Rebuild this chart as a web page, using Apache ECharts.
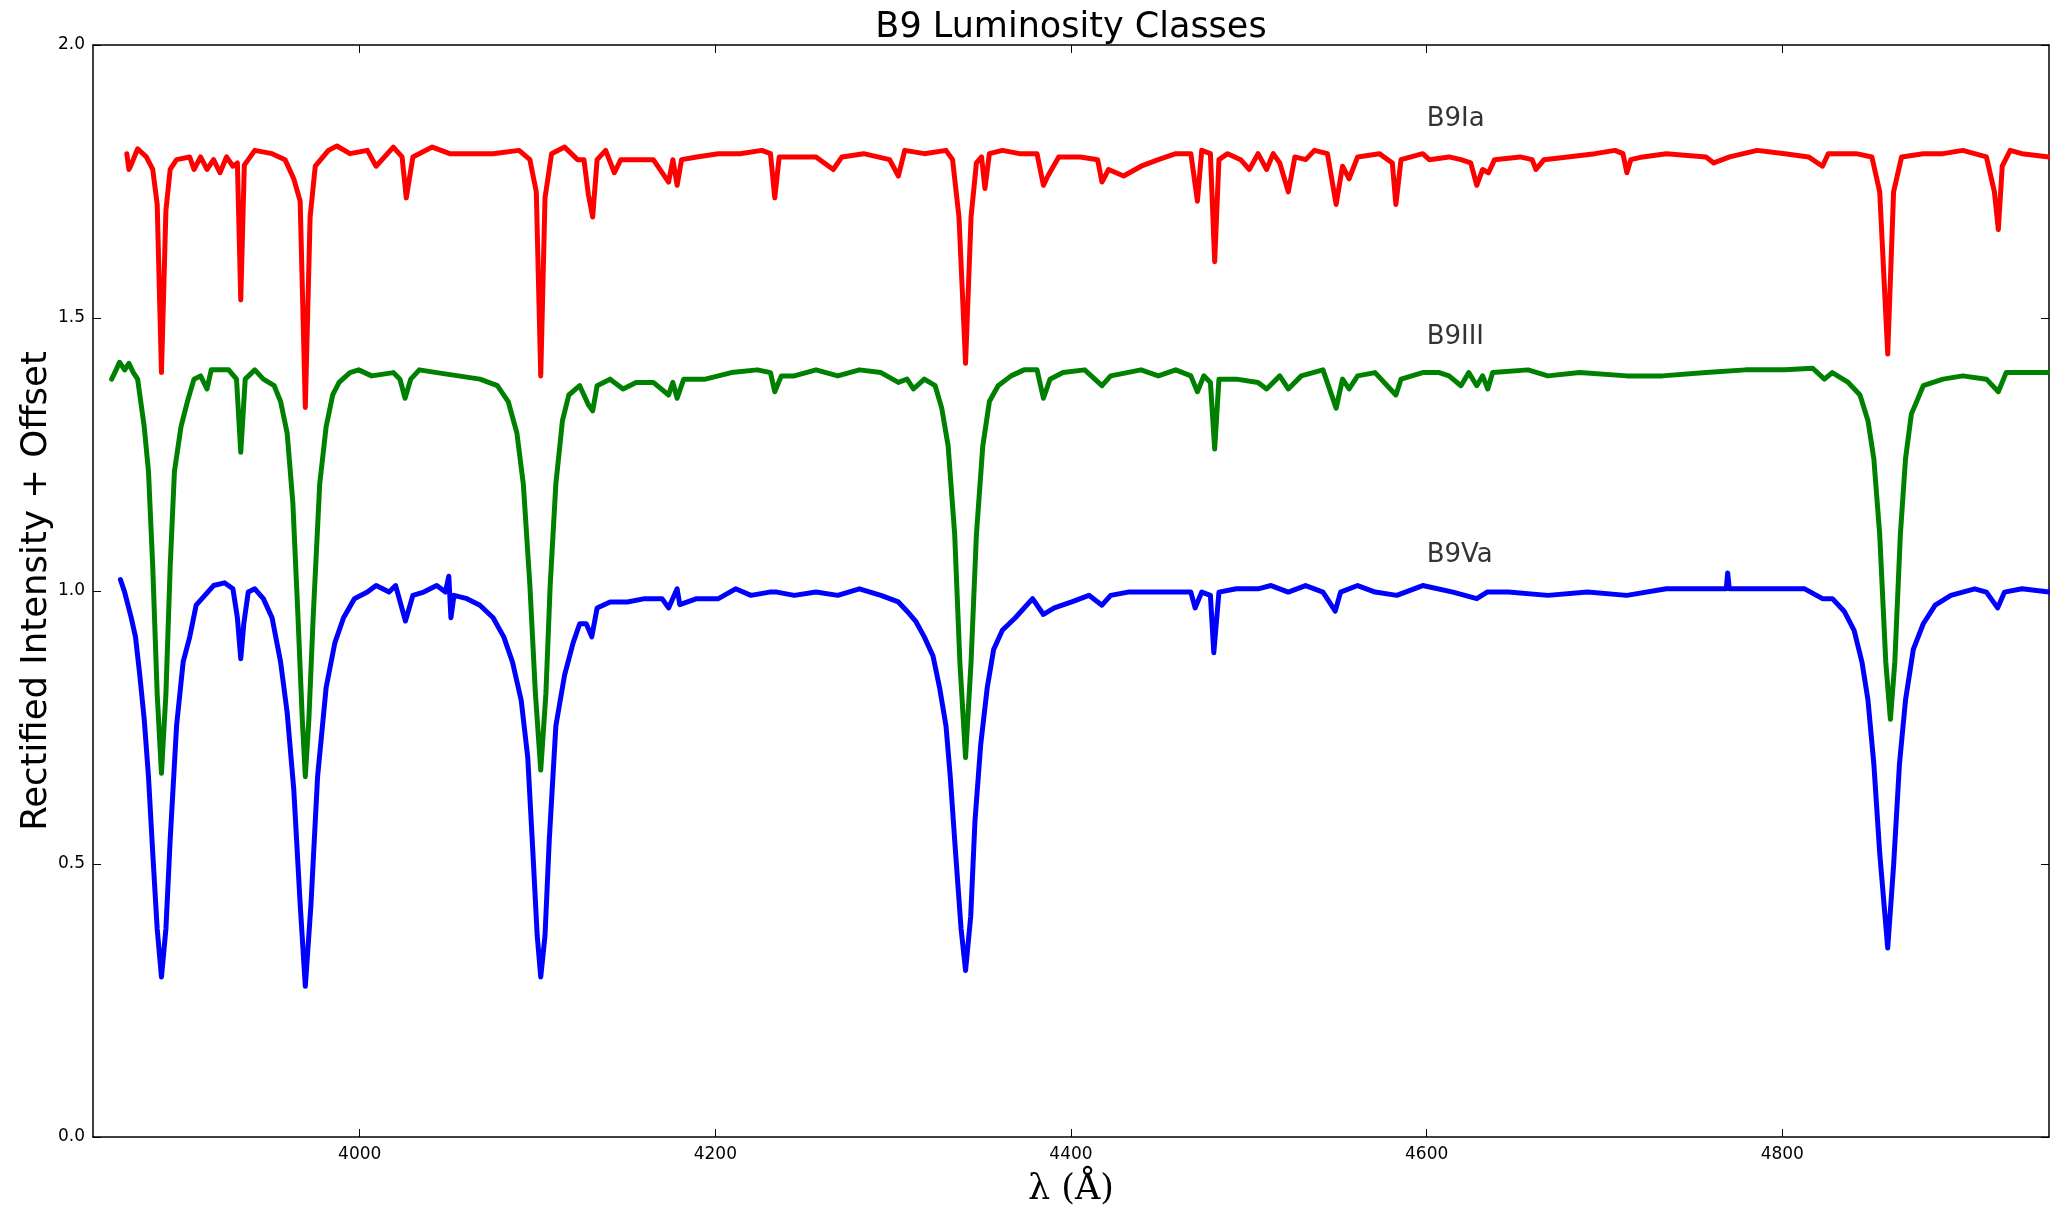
<!DOCTYPE html>
<html>
<head>
<meta charset="utf-8">
<script src="https://cdn.jsdelivr.net/npm/echarts@6/dist/echarts.min.js"></script>
<style>
html,body{margin:0;padding:0;background:#fff;}
#chart{width:2050px;height:1212px;}
</style>
</head>
<body>
<div id="chart"></div>
<script>
// ---- Data ----
const xTicks = [4000, 4200, 4400, 4600, 4800];
const yTicks = [0, 0.5, 1.0, 1.5, 2.0];
const classNames = ['B9Ia', 'B9III', 'B9Va'];
const labelWl = [4600, 4600, 4600];
const labelFlux = [1.85, 1.45, 1.05];

const wlIa = [3869.0,3870.2,3871.4,3875.1,3880.0,3883.6,3886.1,3888.5,3891.0,3893.4,3897.0,3904.4,3906.8,3910.5,3914.1,3917.8,3921.4,3925.1,3928.7,3931.2,3933.1,3935.1,3941.0,3950.7,3958.0,3962.9,3966.5,3969.4,3972.1,3975.0,3982.4,3987.2,3994.5,4004.3,4009.2,4018.9,4023.8,4026.2,4029.9,4040.8,4050.6,4062.8,4075.0,4089.6,4095.7,4099.3,4101.8,4104.2,4107.9,4115.2,4122.5,4126.1,4128.6,4131.0,4133.5,4138.3,4143.2,4146.8,4155.4,4165.1,4173.7,4176.1,4178.5,4181.0,4189.5,4201.7,4213.9,4226.1,4231.0,4233.4,4235.9,4244.4,4256.6,4266.3,4271.2,4283.4,4298.0,4302.9,4306.5,4317.5,4329.7,4333.4,4337.0,4340.7,4343.8,4346.8,4349.7,4351.6,4354.1,4361.4,4371.1,4380.9,4384.5,4387.0,4393.1,4405.3,4415.0,4417.4,4421.1,4429.6,4439.4,4449.1,4458.9,4467.4,4471.1,4473.5,4478.4,4480.8,4483.2,4488.1,4495.4,4500.3,4505.2,4510.0,4513.7,4517.4,4522.2,4525.9,4532.0,4536.9,4544.2,4549.1,4552.7,4556.4,4561.2,4573.4,4580.7,4582.7,4585.6,4597.8,4601.5,4612.6,4619.3,4624.8,4628.2,4631.5,4634.8,4638.2,4652.6,4659.3,4661.5,4666.0,4679.3,4694.8,4705.9,4710.4,4712.6,4714.8,4721.5,4734.8,4757.1,4761.5,4770.4,4785.9,4801.5,4814.8,4822.6,4825.9,4841.5,4850.4,4854.8,4859.3,4862.6,4867.1,4879.3,4890.4,4901.5,4914.8,4919.3,4921.5,4923.7,4928.2,4934.8,4950.0];
const fluxIa = [1.801,1.772,1.780,1.810,1.795,1.772,1.708,1.400,1.697,1.772,1.790,1.795,1.772,1.795,1.772,1.790,1.766,1.795,1.778,1.784,1.533,1.780,1.807,1.801,1.790,1.755,1.714,1.336,1.685,1.778,1.807,1.815,1.801,1.807,1.778,1.813,1.795,1.720,1.795,1.813,1.801,1.801,1.801,1.807,1.790,1.731,1.394,1.720,1.801,1.813,1.790,1.790,1.726,1.685,1.790,1.807,1.766,1.790,1.790,1.790,1.749,1.790,1.743,1.790,1.795,1.801,1.801,1.807,1.801,1.720,1.795,1.795,1.795,1.772,1.795,1.801,1.790,1.760,1.807,1.801,1.807,1.790,1.685,1.417,1.685,1.784,1.795,1.737,1.801,1.807,1.801,1.801,1.743,1.760,1.795,1.795,1.790,1.749,1.772,1.760,1.778,1.790,1.801,1.801,1.714,1.807,1.801,1.603,1.790,1.801,1.790,1.772,1.801,1.772,1.801,1.784,1.731,1.795,1.790,1.807,1.801,1.708,1.778,1.755,1.795,1.801,1.784,1.708,1.790,1.801,1.790,1.795,1.790,1.784,1.743,1.772,1.766,1.790,1.795,1.790,1.772,1.790,1.795,1.801,1.807,1.801,1.766,1.790,1.795,1.801,1.795,1.784,1.795,1.807,1.801,1.795,1.778,1.801,1.801,1.795,1.731,1.434,1.731,1.795,1.801,1.801,1.807,1.795,1.731,1.662,1.778,1.807,1.801,1.795];

const wlIII = [3860.5,3863.0,3864.9,3867.8,3870.2,3872.7,3875.1,3878.8,3881.2,3883.6,3886.1,3888.5,3891.0,3893.4,3895.8,3899.5,3903.1,3906.8,3910.5,3914.1,3916.5,3921.4,3926.3,3930.7,3933.1,3935.6,3941.0,3945.8,3951.9,3955.5,3959.2,3962.4,3965.3,3967.7,3969.4,3971.4,3973.8,3977.5,3981.1,3984.8,3988.4,3994.5,3999.4,4006.7,4018.9,4022.6,4025.5,4028.7,4033.5,4043.3,4055.5,4067.6,4077.4,4083.5,4088.4,4092.0,4095.7,4098.8,4101.8,4104.7,4107.1,4110.3,4114.0,4117.6,4123.7,4128.6,4131.0,4133.5,4140.8,4148.1,4155.4,4165.1,4173.7,4176.1,4178.5,4182.2,4194.4,4209.0,4223.6,4231.0,4233.4,4237.1,4244.4,4256.6,4268.8,4281.0,4293.1,4302.9,4307.8,4311.4,4317.5,4323.6,4327.3,4330.9,4334.6,4337.5,4340.7,4343.8,4346.8,4350.4,4354.1,4359.0,4366.3,4373.6,4380.9,4384.5,4388.2,4395.5,4407.7,4417.4,4422.3,4439.4,4449.1,4458.9,4467.4,4471.1,4474.7,4478.4,4480.8,4483.2,4493.0,4505.2,4510.0,4517.4,4522.2,4529.5,4541.7,4549.1,4552.7,4556.4,4561.2,4571.0,4582.7,4585.6,4597.8,4607.1,4612.6,4619.3,4623.7,4628.2,4631.5,4634.4,4637.1,4657.0,4668.2,4686.0,4712.6,4732.6,4757.1,4779.3,4801.5,4817.1,4823.7,4828.1,4837.1,4843.7,4848.2,4851.5,4854.8,4858.2,4860.8,4863.3,4866.4,4869.3,4872.6,4879.3,4890.4,4901.5,4914.8,4921.5,4925.9,4934.8,4950.0];
const fluxIII = [1.388,1.405,1.419,1.405,1.417,1.400,1.388,1.301,1.219,1.044,0.811,0.666,0.811,1.044,1.219,1.301,1.347,1.388,1.394,1.370,1.405,1.405,1.405,1.388,1.254,1.388,1.405,1.388,1.376,1.347,1.289,1.161,0.951,0.765,0.660,0.765,0.951,1.196,1.301,1.359,1.382,1.400,1.405,1.394,1.400,1.388,1.353,1.388,1.405,1.400,1.394,1.388,1.376,1.347,1.289,1.196,1.010,0.812,0.672,0.812,1.010,1.196,1.312,1.359,1.376,1.341,1.330,1.376,1.388,1.370,1.382,1.382,1.359,1.382,1.353,1.388,1.388,1.400,1.405,1.400,1.365,1.394,1.394,1.405,1.394,1.405,1.400,1.382,1.388,1.370,1.388,1.376,1.335,1.266,1.103,0.870,0.695,0.870,1.103,1.266,1.347,1.376,1.394,1.405,1.405,1.353,1.388,1.400,1.405,1.376,1.394,1.405,1.394,1.405,1.394,1.365,1.394,1.382,1.260,1.388,1.388,1.382,1.370,1.394,1.370,1.394,1.405,1.335,1.388,1.370,1.394,1.400,1.359,1.388,1.400,1.400,1.394,1.376,1.400,1.376,1.394,1.370,1.400,1.405,1.394,1.400,1.394,1.394,1.400,1.405,1.405,1.408,1.388,1.400,1.382,1.359,1.312,1.242,1.103,0.870,0.765,0.870,1.103,1.242,1.324,1.376,1.388,1.394,1.388,1.365,1.400,1.400,1.400];

const wlVa = [3865.4,3867.8,3871.5,3873.9,3876.3,3878.8,3881.2,3883.6,3886.1,3888.5,3891.0,3893.4,3897.0,3900.7,3904.4,3908.0,3912.9,3917.8,3923.9,3928.7,3931.2,3933.1,3934.8,3937.3,3941.0,3945.8,3950.7,3955.5,3959.2,3962.9,3966.5,3969.4,3972.6,3976.3,3981.1,3986.0,3990.9,3997.0,4004.3,4009.2,4016.5,4020.2,4025.7,4029.9,4036.0,4043.3,4048.2,4050.1,4051.3,4053.0,4060.3,4067.6,4075.0,4081.0,4085.9,4090.8,4094.5,4097.4,4099.8,4101.8,4104.2,4106.6,4110.3,4115.2,4120.0,4123.7,4127.4,4130.5,4133.5,4140.8,4150.5,4160.3,4170.0,4173.7,4176.0,4178.5,4180.0,4189.5,4201.7,4211.4,4220.0,4230.5,4234.6,4244.4,4256.6,4268.8,4281.0,4293.1,4302.9,4307.8,4312.6,4317.5,4322.4,4326.1,4329.7,4332.1,4335.1,4338.2,4340.7,4343.6,4346.0,4349.2,4352.9,4356.5,4361.4,4368.7,4378.4,4384.5,4390.6,4400.4,4410.1,4417.4,4422.3,4432.1,4444.3,4458.9,4467.4,4469.8,4473.5,4478.4,4480.3,4483.2,4493.0,4505.2,4512.5,4522.2,4531.9,4541.7,4548.6,4551.6,4561.2,4571.0,4583.2,4597.8,4614.8,4628.2,4634.0,4645.9,4668.2,4690.4,4712.6,4734.8,4757.1,4768.5,4769.3,4770.2,4790.4,4812.6,4822.6,4828.2,4834.8,4840.4,4844.8,4848.2,4851.5,4854.8,4859.3,4862.6,4865.9,4869.3,4873.7,4879.3,4886.0,4894.8,4908.2,4914.8,4921.1,4925.0,4934.8,4950.0];
const fluxVa = [1.021,0.998,0.951,0.916,0.846,0.765,0.660,0.520,0.381,0.293,0.381,0.544,0.753,0.870,0.916,0.974,0.992,1.010,1.015,1.004,0.951,0.876,0.940,0.998,1.004,0.986,0.951,0.870,0.777,0.637,0.427,0.276,0.427,0.660,0.823,0.905,0.951,0.986,0.998,1.010,0.998,1.010,0.945,0.992,0.998,1.010,0.998,1.027,0.951,0.992,0.986,0.974,0.951,0.916,0.870,0.800,0.695,0.520,0.369,0.293,0.369,0.544,0.753,0.846,0.905,0.940,0.940,0.916,0.969,0.980,0.980,0.986,0.986,0.969,0.986,1.004,0.975,0.986,0.986,1.004,0.992,0.998,0.998,0.992,0.998,0.992,1.004,0.992,0.980,0.963,0.945,0.916,0.881,0.823,0.753,0.660,0.520,0.381,0.305,0.404,0.579,0.718,0.823,0.893,0.928,0.951,0.986,0.957,0.969,0.980,0.992,0.974,0.992,0.998,0.998,0.998,0.998,0.969,0.998,0.992,0.887,0.998,1.004,1.004,1.010,0.998,1.010,0.998,0.963,0.998,1.010,0.998,0.992,1.010,0.998,0.986,0.998,0.998,0.992,0.998,0.992,1.004,1.004,1.004,1.033,1.004,1.004,1.004,0.986,0.986,0.963,0.928,0.870,0.800,0.683,0.520,0.346,0.497,0.683,0.800,0.893,0.940,0.974,0.992,1.004,0.998,0.969,0.998,1.004,0.998];

// ---- Build chart ----
function zip(xs, ys) { return xs.map((x, i) => [x, ys[i]]); }
const spectra = [
  { name: 'B9Ia', wl: wlIa, flux: fluxIa, color: '#ff0000' },
  { name: 'B9III', wl: wlIII, flux: fluxIII, color: '#008000' },
  { name: 'B9Va', wl: wlVa, flux: fluxVa, color: '#0000ff' }
];

const chart = echarts.init(document.getElementById('chart'), null, { renderer: 'canvas' });
const sansFont = 'DejaVu Sans';
const axisCommon = {
  type: 'value',
  splitLine: { show: false },
  axisLine: { show: true, onZero: false, lineStyle: { color: '#000', width: 1.5 } }
};

const option = {
  backgroundColor: '#ffffff',
  animation: false,
  title: {
    text: 'B9 Luminosity Classes',
    left: 1071,
    textAlign: 'center',
    top: 10,
    padding: 0,
    textStyle: { fontFamily: sansFont, fontSize: 35, fontWeight: 'normal', color: '#000' }
  },
  grid: { left: 93, right: 1, top: 45, bottom: 73, containLabel: false, show: false },
  xAxis: [
    Object.assign({}, axisCommon, {
      min: 3850, max: 4950, position: 'bottom',
      axisTick: { show: true, inside: true, length: 8, customValues: xTicks, lineStyle: { color: '#000', width: 1 } },
      axisLabel: { show: true, customValues: xTicks, margin: 9, fontFamily: sansFont, fontSize: 17, color: '#000',
        formatter: v => String(Math.round(v)) },
      name: 'λ (Å)', nameLocation: 'middle', nameGap: 35,
      nameTextStyle: { fontFamily: 'DejaVu Serif', fontSize: 35, color: '#000' }
    }),
    Object.assign({}, axisCommon, {
      min: 3850, max: 4950, position: 'top',
      axisTick: { show: true, inside: true, length: 8, customValues: xTicks, lineStyle: { color: '#000', width: 1 } },
      axisLabel: { show: false }
    })
  ],
  yAxis: [
    Object.assign({}, axisCommon, {
      min: 0, max: 2, interval: 0.5, position: 'left',
      axisTick: { show: true, inside: true, length: 8, lineStyle: { color: '#000', width: 1 } },
      axisLabel: { show: true, margin: 8, fontFamily: sansFont, fontSize: 17, color: '#000',
        formatter: v => v.toFixed(1) },
      name: 'Rectified Intensity + Offset', nameLocation: 'middle', nameRotate: 90, nameGap: 38,
      nameMoveOverlap: false,
      nameTextStyle: { fontFamily: sansFont, fontSize: 35.5, color: '#000' }
    }),
    Object.assign({}, axisCommon, {
      min: 0, max: 2, interval: 0.5, position: 'right',
      axisTick: { show: true, inside: true, length: 8, lineStyle: { color: '#000', width: 1 } },
      axisLabel: { show: false }
    })
  ],
  series: spectra.map(s => ({
    name: s.name,
    type: 'line',
    xAxisIndex: 0,
    yAxisIndex: 0,
    data: zip(s.wl, s.flux),
    showSymbol: false,
    symbol: 'none',
    silent: true,
    lineStyle: { color: s.color, width: 5, join: 'round', cap: 'round' },
    z: 2
  })).concat([{
    name: 'labels',
    type: 'scatter',
    xAxisIndex: 0,
    yAxisIndex: 0,
    symbolSize: 0,
    silent: true,
    data: classNames.map((n, i) => [labelWl[i], labelFlux[i], n]),
    label: {
      show: true,
      position: [0, 0],
      align: 'left',
      verticalAlign: 'bottom',
      offset: [0, 5],
      formatter: p => p.value[2],
      fontFamily: sansFont,
      fontSize: 26,
      color: '#000'
    },
    z: 3
  }])
};
chart.setOption(option);
</script>
</body>
</html>
